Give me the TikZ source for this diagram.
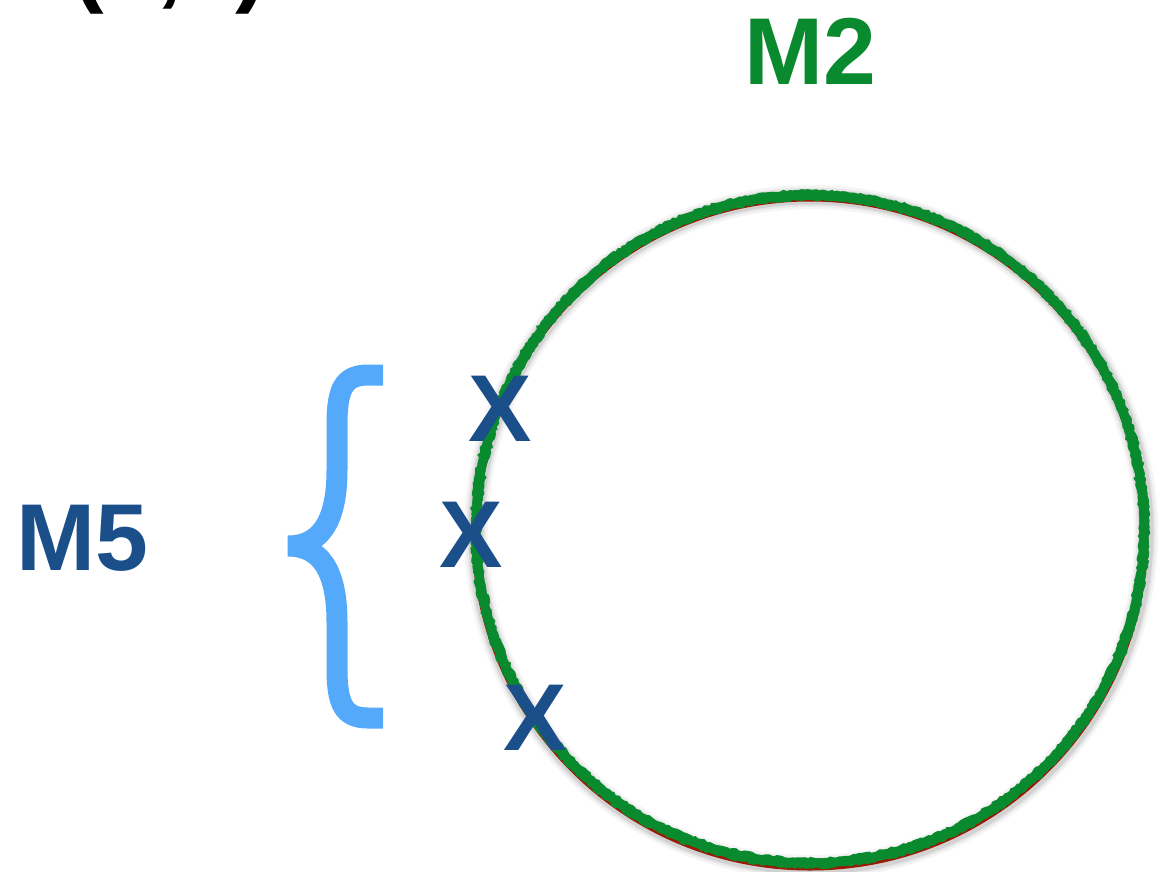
\documentclass[tikz,border=0pt]{standalone}
\usepackage{fontspec}
\setmainfont{Liberation Sans}
\usetikzlibrary{calc,decorations.pathmorphing}
\definecolor{ringgreen}{HTML}{0A8A2E}
\definecolor{ringred}{HTML}{9A1A05}
\definecolor{markblue}{HTML}{1A4F8A}
\definecolor{bracelight}{HTML}{55A9FB}
\begin{document}
\begin{tikzpicture}[x=1pt,y=-1pt,
  bigtext/.style={font=\fontsize{95}{95}\selectfont\bfseries, inner sep=0pt},
  crossmark/.style={bigtext, text=markblue, anchor=center},
  roughedge/.style={ringgreen, line width=2.5pt,
    decorate, decoration={random steps, segment length=3pt, amplitude=1.2pt}}]
\useasboundingbox (0,0) rectangle (1161,871);
\clip (0,0) rectangle (1161,871);

% coordinate label running off the top edge
\node[bigtext, anchor=base west] (pt) at (72,-6) {(x,x)};

% ring label
\node[bigtext, text=ringgreen, anchor=base west] (m2) at (744,84) {M2};

% ring: soft shadow, red under-stroke, green stroke with ragged edges
\coordinate (c) at (810,529);
\foreach \w/\o in {24/0.04,19/0.06,15/0.09}
  \draw[black, opacity=\o, line width=\w pt] ($(c)+(1,3)$) circle (335);
\draw[ringred, line width=8pt] ($(c)+(0,3)$) circle (334.5);
\draw[ringgreen, line width=9pt] (c) circle (334);
\draw[roughedge] (c) circle (338);
\draw[roughedge] (c) circle (330);

% crosses on the ring
\node[crossmark] (x1) at (500,409) {X};
\node[crossmark] (x2) at (471,535) {X};
\node[crossmark] (x3) at (535,718) {X};

% brace grouping the crosses
\draw[bracelight, line width=21pt]
  (383,375) -- (368,375)
  .. controls (343,375) and (337,390) .. (337,425)
  -- (337,470)
  .. controls (337,525) and (318,546) .. (288,546)
  .. controls (318,546) and (337,567) .. (337,622)
  -- (337,668)
  .. controls (337,703) and (343,718) .. (368,718)
  -- (383,718);

% group label
\node[bigtext, text=markblue, anchor=base west] (m5) at (16,570) {M5};
\end{tikzpicture}
\end{document}
